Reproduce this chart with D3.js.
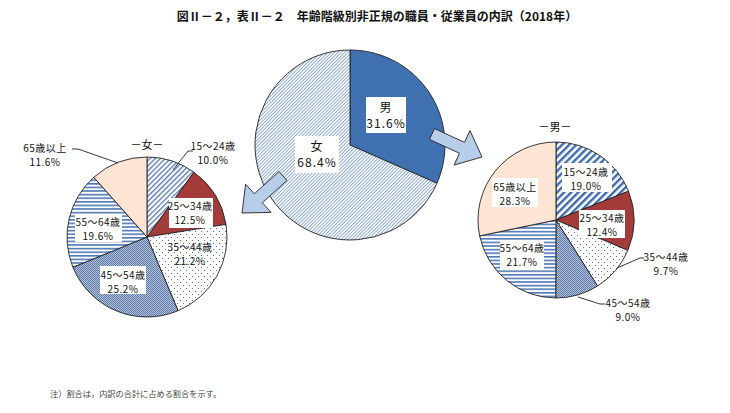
<!DOCTYPE html>
<html><head><meta charset="utf-8">
<script src="https://cdn.jsdelivr.net/npm/d3@7"></script>
<style>
html,body{margin:0;padding:0;background:#fff;}
text{font-family:"Noto Sans CJK JP","Noto Sans",sans-serif;fill:#111;}
</style></head>
<body>
<svg id="chart" width="730" height="413"></svg>
<script>
// ---- data ----
const ageGroups = ["15～24歳", "25～34歳", "35～44歳", "45～54歳", "55～64歳", "65歳以上"];
const femaleShares = [10.0, 12.5, 21.2, 25.2, 19.6, 11.6];
const maleShares = [19.0, 12.4, 9.7, 9.0, 21.7, 28.3];
const sexLabels = ["男", "女"];
const sexShares = [31.6, 68.4];
const titleText = "図Ⅱ－２，表Ⅱ－２　年齢階級別非正規の職員・従業員の内訳（2018年）";
const noteText = "注）割合は，内訳の合計に占める割合を示す。";

// ---- layout / style ----
const svg = d3.select("#chart");
const defs = svg.append("defs");

function linePattern(id, size, thick, color, angle) {
  const p = defs.append("pattern").attr("id", id).attr("patternUnits", "userSpaceOnUse")
    .attr("width", size).attr("height", size).attr("patternTransform", `rotate(${angle})`);
  p.append("rect").attr("width", size).attr("height", size).attr("fill", "#fff");
  p.append("rect").attr("y", 0).attr("width", size).attr("height", thick).attr("fill", color);
}
linePattern("hatchCenter", 2.4, 0.9, "#86a3cc", -45);
linePattern("hatchLeft", 3.6, 1.3, "#5479b3", -45);
linePattern("hatchRight", 5, 2.4, "#3d69ad", -45);
linePattern("hstripe", 3.6, 1.6, "#4f78b6", 0);
{
  const p = defs.append("pattern").attr("id", "dots").attr("patternUnits", "userSpaceOnUse")
    .attr("width", 6).attr("height", 6);
  p.append("rect").attr("width", 6).attr("height", 6).attr("fill", "#fff");
  p.append("rect").attr("x", 0).attr("y", 0).attr("width", 1).attr("height", 1).attr("fill", "#4d70aa");
  p.append("rect").attr("x", 3).attr("y", 3).attr("width", 1).attr("height", 1).attr("fill", "#4d70aa");
}
{
  const p = defs.append("pattern").attr("id", "checker").attr("patternUnits", "userSpaceOnUse")
    .attr("width", 2).attr("height", 2);
  p.append("rect").attr("width", 2).attr("height", 2).attr("fill", "#b2c0d7");
  p.append("rect").attr("width", 1).attr("height", 1).attr("fill", "#5f7cad");
  p.append("rect").attr("x", 1).attr("y", 1).attr("width", 1).attr("height", 1).attr("fill", "#5f7cad");
}

const leftFills = ["url(#hatchLeft)", "#a33b3b", "url(#dots)", "url(#checker)", "url(#hstripe)", "#fde4d5"];
const rightFills = ["url(#hatchRight)", "#a33b3b", "url(#dots)", "url(#checker)", "url(#hstripe)", "#fde4d5"];
const centerFills = ["#3f71b0", "url(#hatchCenter)"];

const pieGen = d3.pie().sort(null).value(d => d);

function drawPie(cx, cy, r, values, fills) {
  const g = svg.append("g").attr("transform", `translate(${cx},${cy})`);
  const arc = d3.arc().innerRadius(0).outerRadius(r);
  g.selectAll("path").data(pieGen(values)).join("path")
    .attr("d", arc).attr("fill", (d, i) => fills[i])
    .attr("stroke", "#222").attr("stroke-width", 0.9).attr("stroke-linejoin", "round");
  return g;
}

// title
svg.append("text").attr("x", 377).attr("y", 21).attr("text-anchor", "middle")
  .attr("font-size", 12).attr("font-weight", "bold").text(titleText);

// pies
drawPie(350, 145, 95, sexShares, centerFills);
drawPie(147, 237, 80, femaleShares, leftFills);
drawPie(556, 220, 78, maleShares, rightFills);

// arrows
function arrow(tail, tip, shaftW, headW, headL) {
  const dx = tip[0] - tail[0], dy = tip[1] - tail[1];
  const L = Math.hypot(dx, dy), ux = dx / L, uy = dy / L, px = -uy, py = ux;
  const bx = tip[0] - ux * headL, by = tip[1] - uy * headL;
  const pts = [
    [tail[0] + px * shaftW / 2, tail[1] + py * shaftW / 2],
    [bx + px * shaftW / 2, by + py * shaftW / 2],
    [bx + px * headW / 2, by + py * headW / 2],
    tip,
    [bx - px * headW / 2, by - py * headW / 2],
    [bx - px * shaftW / 2, by - py * shaftW / 2],
    [tail[0] - px * shaftW / 2, tail[1] - py * shaftW / 2]
  ];
  svg.append("path").attr("d", d3.line()(pts) + "Z")
    .attr("fill", "#b8cde9").attr("stroke", "#222").attr("stroke-width", 0.9).attr("stroke-linejoin", "miter");
}
arrow([283, 176], [242, 213], 12, 38, 22);
arrow([432, 134], [482, 157], 12, 38, 22);

// labels
function label(x, y, lines, size, box, lh) {
  const g = svg.append("g");
  if (box) {
    g.append("rect").attr("x", box[0]).attr("y", box[1]).attr("width", box[2]).attr("height", box[3]).attr("fill", "#fff");
  }
  lines.forEach((t, i) => {
    g.append("text").attr("x", x).attr("y", y + i * lh).attr("text-anchor", "middle")
      .attr("font-size", size).attr("letter-spacing", size > 11 ? 1 : 0.5).text(t);
  });
}
function leader(pts) {
  svg.append("path").attr("d", d3.line()(pts)).attr("fill", "none").attr("stroke", "#222").attr("stroke-width", 0.9);
}
const pct = v => v.toFixed(1) + "%";

// center
label(386, 112, [sexLabels[0], pct(sexShares[0])], 12, [366, 97, 40, 36], 16);
label(317, 151, [sexLabels[1], pct(sexShares[1])], 12, [295, 136, 44, 37], 16);

// left pie (女)
svg.append("text").attr("x", 147).attr("y", 149).attr("text-anchor", "middle").attr("font-size", 11).text("－女－");
const leftLab = [
  [213, 150, null], [190, 210, [169, 198, 44, 30]], [190, 251, null],
  [123, 279, [100, 266, 46, 28]], [98, 226, [75, 214, 47, 28]], [45, 152, null]
];
ageGroups.forEach((a, i) => label(leftLab[i][0], leftLab[i][1], [a, pct(femaleShares[i])], 10, leftLab[i][2], 14));
leader([[173, 170], [188, 151], [193, 151]]);
leader([[118, 163], [78, 149], [72, 149]]);

// right pie (男)
svg.append("text").attr("x", 555).attr("y", 131).attr("text-anchor", "middle").attr("font-size", 11).text("－男－");
const rightLab = [
  [586, 176, [562, 163, 50, 29]], [602, 222, [579, 210, 46, 28]], [666, 261, null],
  [628, 307, null], [522, 252, [500, 241, 44, 28]], [515, 191, [492, 178, 46, 29]]
];
ageGroups.forEach((a, i) => label(rightLab[i][0], rightLab[i][1], [a, pct(maleShares[i])], 10, rightLab[i][2], 14));
leader([[617, 268], [640, 258], [644, 258]]);
leader([[578, 297], [600, 304], [605, 304]]);

// note
svg.append("text").attr("x", 50).attr("y", 397).attr("font-size", 8.2).style("fill", "#444").text(noteText);
</script>
</body></html>
